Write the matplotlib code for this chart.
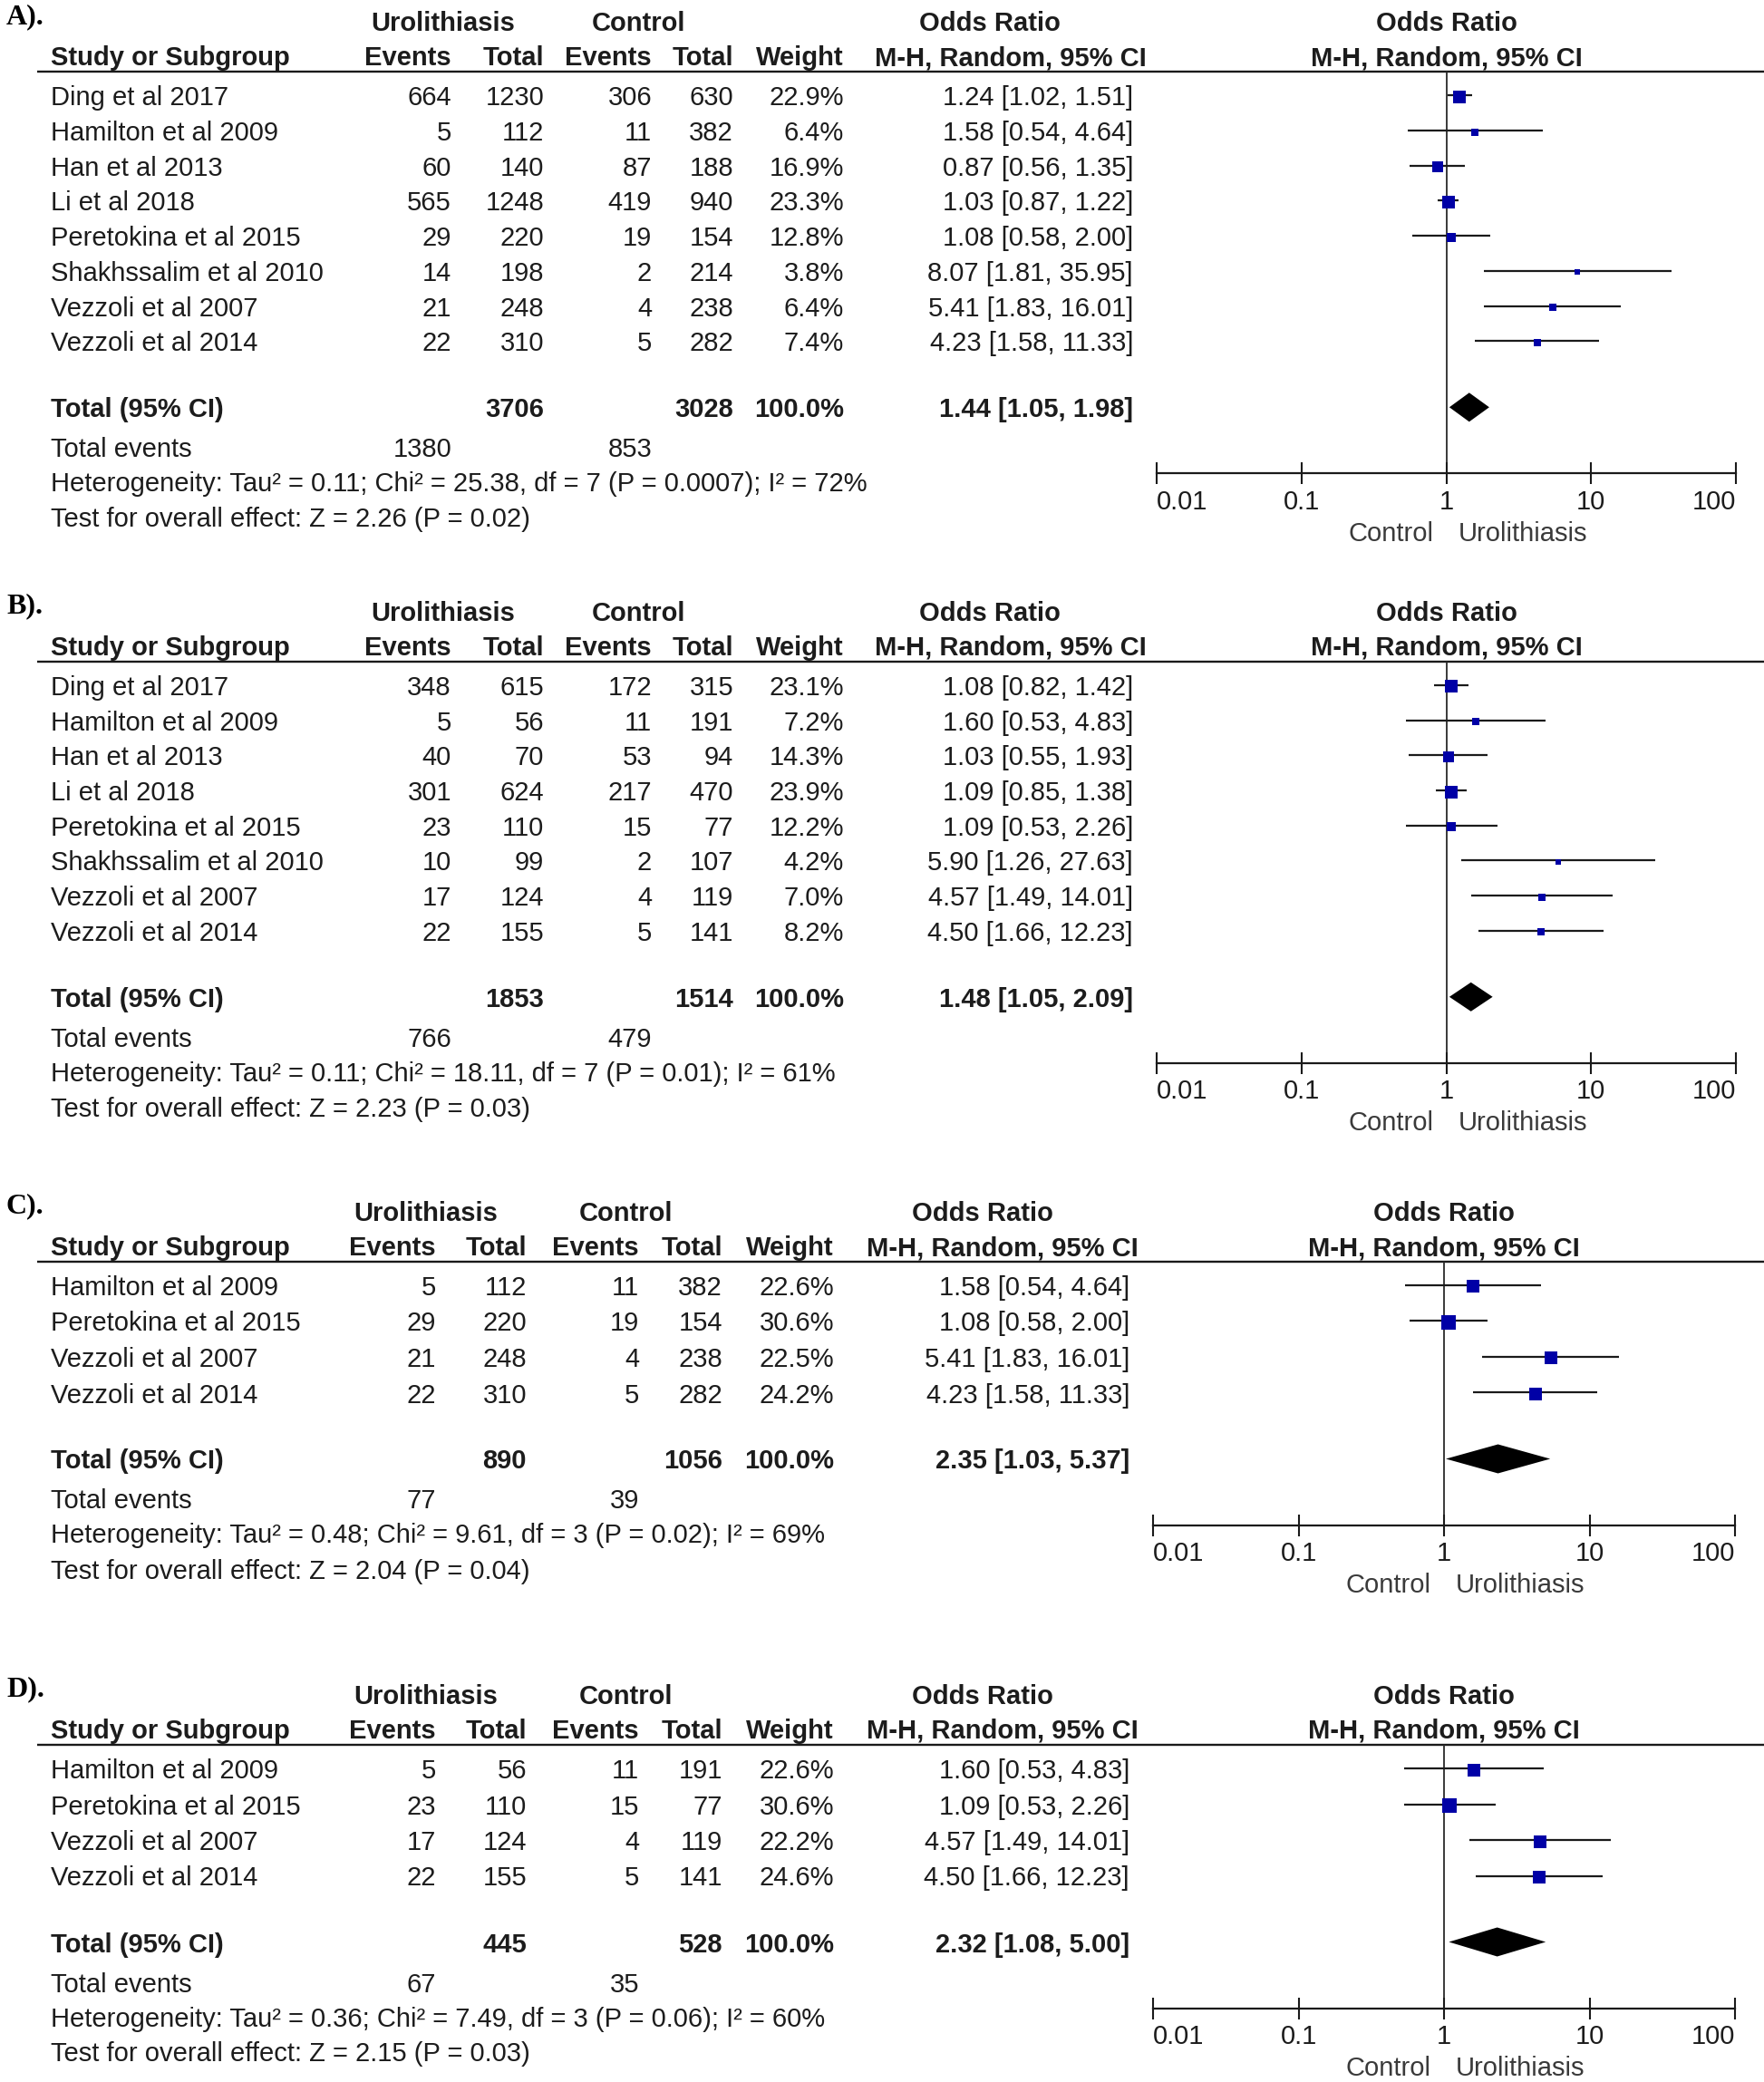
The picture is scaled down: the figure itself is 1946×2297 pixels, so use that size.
import matplotlib
matplotlib.use("Agg")
import matplotlib.pyplot as plt
import numpy as np

# ---------------- data ----------------
studies_AB = ["Ding et al 2017", "Hamilton et al 2009", "Han et al 2013", "Li et al 2018",
              "Peretokina et al 2015", "Shakhssalim et al 2010", "Vezzoli et al 2007", "Vezzoli et al 2014"]
studies_CD = ["Hamilton et al 2009", "Peretokina et al 2015", "Vezzoli et al 2007", "Vezzoli et al 2014"]

ue_A = [664, 5, 60, 565, 29, 14, 21, 22]
ut_A = [1230, 112, 140, 1248, 220, 198, 248, 310]
ce_A = [306, 11, 87, 419, 19, 2, 4, 5]
ct_A = [630, 382, 188, 940, 154, 214, 238, 282]
w_A = [22.9, 6.4, 16.9, 23.3, 12.8, 3.8, 6.4, 7.4]
or_A = [1.24, 1.58, 0.87, 1.03, 1.08, 8.07, 5.41, 4.23]
lo_A = [1.02, 0.54, 0.56, 0.87, 0.58, 1.81, 1.83, 1.58]
hi_A = [1.51, 4.64, 1.35, 1.22, 2.00, 35.95, 16.01, 11.33]
tot_A = dict(ut=3706, ct=3028, w=100.0, orr=1.44, lo=1.05, hi=1.98, ue=1380, ce=853,
             het="Heterogeneity: Tau² = 0.11; Chi² = 25.38, df = 7 (P = 0.0007); I² = 72%",
             test="Test for overall effect: Z = 2.26 (P = 0.02)")

ue_B = [348, 5, 40, 301, 23, 10, 17, 22]
ut_B = [615, 56, 70, 624, 110, 99, 124, 155]
ce_B = [172, 11, 53, 217, 15, 2, 4, 5]
ct_B = [315, 191, 94, 470, 77, 107, 119, 141]
w_B = [23.1, 7.2, 14.3, 23.9, 12.2, 4.2, 7.0, 8.2]
or_B = [1.08, 1.60, 1.03, 1.09, 1.09, 5.90, 4.57, 4.50]
lo_B = [0.82, 0.53, 0.55, 0.85, 0.53, 1.26, 1.49, 1.66]
hi_B = [1.42, 4.83, 1.93, 1.38, 2.26, 27.63, 14.01, 12.23]
tot_B = dict(ut=1853, ct=1514, w=100.0, orr=1.48, lo=1.05, hi=2.09, ue=766, ce=479,
             het="Heterogeneity: Tau² = 0.11; Chi² = 18.11, df = 7 (P = 0.01); I² = 61%",
             test="Test for overall effect: Z = 2.23 (P = 0.03)")

ue_C = [5, 29, 21, 22]
ut_C = [112, 220, 248, 310]
ce_C = [11, 19, 4, 5]
ct_C = [382, 154, 238, 282]
w_C = [22.6, 30.6, 22.5, 24.2]
or_C = [1.58, 1.08, 5.41, 4.23]
lo_C = [0.54, 0.58, 1.83, 1.58]
hi_C = [4.64, 2.00, 16.01, 11.33]
tot_C = dict(ut=890, ct=1056, w=100.0, orr=2.35, lo=1.03, hi=5.37, ue=77, ce=39,
             het="Heterogeneity: Tau² = 0.48; Chi² = 9.61, df = 3 (P = 0.02); I² = 69%",
             test="Test for overall effect: Z = 2.04 (P = 0.04)")

ue_D = [5, 23, 17, 22]
ut_D = [56, 110, 124, 155]
ce_D = [11, 15, 4, 5]
ct_D = [191, 77, 119, 141]
w_D = [22.6, 30.6, 22.2, 24.6]
or_D = [1.60, 1.09, 4.57, 4.50]
lo_D = [0.53, 0.53, 1.49, 1.66]
hi_D = [4.83, 2.26, 14.01, 12.23]
tot_D = dict(ut=445, ct=528, w=100.0, orr=2.32, lo=1.08, hi=5.00, ue=67, ce=35,
             het="Heterogeneity: Tau² = 0.36; Chi² = 7.49, df = 3 (P = 0.06); I² = 60%",
             test="Test for overall effect: Z = 2.15 (P = 0.03)")

panel_labels = ["A).", "B).", "C).", "D)."]
tick_vals = [0.01, 0.1, 1, 10, 100]
tick_labels = ["0.01", "0.1", "1", "10", "100"]

# ---------------- styling / layout ----------------
W, H, DPI = 1946, 2297, 100
FONT = "Liberation Sans"
FS = 21
TXT = "#1c1c1c"
GREY = "#3a3a3a"
BLUE = "#0000A6"
LINE = "#1a1a1a"
TEXT_DY = 3

fig = plt.figure(figsize=(W / DPI, H / DPI), dpi=DPI)
canvas = fig.add_axes([0, 0, 1, 1])
canvas.set_xlim(0, W)
canvas.set_ylim(H, 0)
canvas.axis("off")


def txt(x, y, s, ha="left", bold=False, size=FS, color=TXT, family=FONT):
    canvas.text(x, y + TEXT_DY, s, ha=ha, va="center", fontsize=size,
                fontweight="bold" if bold else "normal", color=color, family=family)


lay_AB = dict(name_x=56, ue_x=498, ut_x=600, ce_x=719, ct_x=809, w_x=931, or_x=1250,
              uro_hdr=489, ctl_hdr=705, or_hdr=1092, mh_hdr=1115, f_left=1276, f_right=1915,
              step=38.7)
lay_CD = dict(name_x=56, ue_x=481, ut_x=581, ce_x=705, ct_x=797, w_x=920, or_x=1246,
              uro_hdr=470, ctl_hdr=690, or_hdr=1084, mh_hdr=1106, f_left=1272, f_right=1914,
              step=39.5)


def panel(label, top, lay, studies, ue, ut, ce, ct, w, orr, lo, hi, tot):
    # labels & headers
    txt(7, top - 8, label, bold=True, size=23, family="Liberation Serif", color="#000000")
    txt(lay["uro_hdr"], top, "Urolithiasis", ha="center", bold=True)
    txt(lay["ctl_hdr"], top, "Control", ha="center", bold=True)
    txt(lay["or_hdr"], top, "Odds Ratio", ha="center", bold=True)
    fc = (lay["f_left"] + lay["f_right"]) / 2
    txt(fc, top, "Odds Ratio", ha="center", bold=True)
    h2 = top + 38
    txt(lay["name_x"], h2, "Study or Subgroup", bold=True)
    txt(lay["ue_x"], h2, "Events", ha="right", bold=True)
    txt(lay["ut_x"], h2, "Total", ha="right", bold=True)
    txt(lay["ce_x"], h2, "Events", ha="right", bold=True)
    txt(lay["ct_x"], h2, "Total", ha="right", bold=True)
    txt(lay["w_x"], h2, "Weight", ha="right", bold=True)
    txt(lay["mh_hdr"], h2, "M-H, Random, 95% CI", ha="center", bold=True)
    txt(fc, h2, "M-H, Random, 95% CI", ha="center", bold=True)
    rule = top + 56
    canvas.plot([41, W], [rule, rule], color=LINE, lw=1.7, solid_capstyle="butt")

    row0 = top + 82
    ys = [row0 + i * lay["step"] for i in range(len(studies))]
    for i, y in enumerate(ys):
        txt(lay["name_x"], y, studies[i])
        txt(lay["ue_x"], y, f"{ue[i]}", ha="right")
        txt(lay["ut_x"], y, f"{ut[i]}", ha="right")
        txt(lay["ce_x"], y, f"{ce[i]}", ha="right")
        txt(lay["ct_x"], y, f"{ct[i]}", ha="right")
        txt(lay["w_x"], y, f"{w[i]:.1f}%", ha="right")
        txt(lay["or_x"], y, f"{orr[i]:.2f} [{lo[i]:.2f}, {hi[i]:.2f}]", ha="right")

    ty = ys[-1] + 73
    txt(lay["name_x"], ty, "Total (95% CI)", bold=True)
    txt(lay["ut_x"], ty, f"{tot['ut']}", ha="right", bold=True)
    txt(lay["ct_x"], ty, f"{tot['ct']}", ha="right", bold=True)
    txt(lay["w_x"], ty, f"{tot['w']:.1f}%", ha="right", bold=True)
    txt(lay["or_x"], ty, f"{tot['orr']:.2f} [{tot['lo']:.2f}, {tot['hi']:.2f}]", ha="right", bold=True)
    txt(lay["name_x"], ty + 44, "Total events")
    txt(lay["ue_x"], ty + 44, f"{tot['ue']}", ha="right")
    txt(lay["ce_x"], ty + 44, f"{tot['ce']}", ha="right")
    txt(lay["name_x"], ty + 82, tot["het"])
    txt(lay["name_x"], ty + 121, tot["test"])

    # forest plot
    axis_y = ty + 73
    ax = fig.add_axes([lay["f_left"] / W, 1 - axis_y / H,
                       (lay["f_right"] - lay["f_left"]) / W, (axis_y - rule) / H])
    ax.patch.set_visible(False)
    ax.set_xscale("log")
    ax.set_xlim(0.01, 100)
    ax.set_ylim(axis_y, rule)
    for s in ["top", "left", "right"]:
        ax.spines[s].set_visible(False)
    ax.spines["bottom"].set_linewidth(1.6)
    ax.spines["bottom"].set_color(LINE)
    ax.set_yticks([])
    ax.set_xticks(tick_vals)
    ax.set_xticklabels(tick_labels)
    ax.minorticks_off()
    ax.tick_params(axis="x", direction="inout", length=17, width=1.5, color=LINE,
                   labelsize=FS, labelcolor=TXT, pad=4)
    for t in ax.get_xticklabels():
        t.set_family(FONT)
    labs = ax.get_xticklabels()
    labs[0].set_ha("left")
    labs[-1].set_ha("right")
    ax.axvline(1, color="#2a2a2a", lw=1.3, zorder=1)

    for i, y in enumerate(ys):
        ax.hlines(y, lo[i], hi[i], color=LINE, lw=1.6, zorder=2)
        side_px = 3.0 * np.sqrt(w[i])
        ax.plot([orr[i]], [y + 1.5], marker="s", ms=side_px * 72 / DPI, color=BLUE,
                mec=BLUE, mew=0, zorder=3, linestyle="none")
    hh = 16
    ax.fill([tot["lo"], tot["orr"], tot["hi"], tot["orr"]], [ty, ty - hh, ty, ty + hh],
            color="#000000", lw=0, zorder=3)

    cy = ty + 136.5
    x_one = lay["f_left"] + (lay["f_right"] - lay["f_left"]) * 0.5
    txt(x_one - 14, cy, "Control", ha="right", color=GREY)
    txt(x_one + 13, cy, "Urolithiasis", ha="left", color=GREY)


panel(panel_labels[0], 23.4, lay_AB, studies_AB, ue_A, ut_A, ce_A, ct_A, w_A, or_A, lo_A, hi_A, tot_A)
panel(panel_labels[1], 673.9, lay_AB, studies_AB, ue_B, ut_B, ce_B, ct_B, w_B, or_B, lo_B, hi_B, tot_B)
panel(panel_labels[2], 1336, lay_CD, studies_CD, ue_C, ut_C, ce_C, ct_C, w_C, or_C, lo_C, hi_C, tot_C)
panel(panel_labels[3], 1869, lay_CD, studies_CD, ue_D, ut_D, ce_D, ct_D, w_D, or_D, lo_D, hi_D, tot_D)

fig.savefig("out.png", dpi=DPI, facecolor="white")
